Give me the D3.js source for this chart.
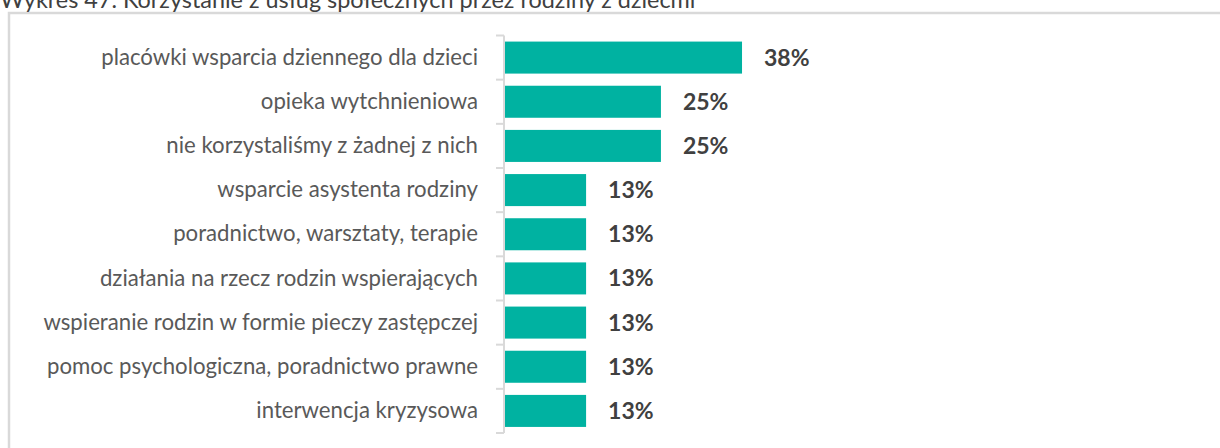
<!DOCTYPE html>
<html lang="pl">
<head>
<meta charset="utf-8">
<script src="https://cdn.jsdelivr.net/npm/d3@7"></script>
<style>
  html, body { margin: 0; padding: 0; background: #fff; }
  svg { display: block; }
</style>
</head>
<body>
<svg id="chart" width="1220" height="448"></svg>
<script>
// Services used by families with children (share of respondents, %)
const categories = [
  "placówki wsparcia dziennego dla dzieci",
  "opieka wytchnieniowa",
  "nie korzystaliśmy z żadnej z nich",
  "wsparcie asystenta rodziny",
  "poradnictwo, warsztaty, terapie",
  "działania na rzecz rodzin wspierających",
  "wspieranie rodzin w formie pieczy zastępczej",
  "pomoc psychologiczna, poradnictwo prawne",
  "interwencja kryzysowa"
];
const values = [38, 25, 25, 13, 13, 13, 13, 13, 13];
const valueLabels = ["38%", "25%", "25%", "13%", "13%", "13%", "13%", "13%", "13%"];
const title = "Wykres 47. Korzystanie z usług społecznych przez rodziny z dziećmi";

const FONT = "Lato, 'Open Sans', sans-serif";
const svg = d3.select("#chart");

// Chart frame (only top and left edges fall inside the viewport)
svg.append("rect")
  .attr("x", 9).attr("y", 13)
  .attr("width", 1400).attr("height", 600)
  .attr("fill", "#fff")
  .attr("stroke", "#d9d9d9")
  .attr("stroke-width", 2.5);

svg.append("text")
  .attr("x", 0).attr("y", 8)
  .attr("font-family", FONT)
  .attr("font-size", 23.4)
  .attr("fill", "#404040")
  .text(title);

const y = d3.scaleBand()
  .domain(categories)
  .range([35.5, 433])
  .paddingInner(0.275)
  .paddingOuter(0.1375);

const x = d3.scaleLinear()
  .domain([0, 80])
  .range([504, 1003]);

const gap = y.step() * y.paddingInner();

// Bars
svg.append("g").selectAll("rect")
  .data(values)
  .join("rect")
  .attr("x", x(0) + 1)
  .attr("y", (d, i) => y(categories[i]))
  .attr("width", d => x(d) - x(0))
  .attr("height", y.bandwidth())
  .attr("fill", "#00b2a1");

// Category axis: labels centred on bars, ticks on category boundaries
const axis = svg.append("g")
  .attr("transform", `translate(${x(0)},0)`)
  .call(d3.axisLeft(y).tickSize(0).tickPadding(26));
axis.select(".domain").remove();
axis.selectAll("text")
  .attr("font-family", FONT)
  .attr("font-size", 22.2)
  .attr("fill", "#595959");

const bounds = categories.map(c => y(c) - gap / 2).concat([y(categories[categories.length - 1]) + y.bandwidth() + gap / 2]);
svg.append("line")
  .attr("x1", x(0)).attr("x2", x(0))
  .attr("y1", bounds[0]).attr("y2", bounds[bounds.length - 1])
  .attr("stroke", "#d9d9d9").attr("stroke-width", 2);
svg.append("g").selectAll("line")
  .data(bounds)
  .join("line")
  .attr("x1", x(0) - 8).attr("x2", x(0))
  .attr("y1", d => d).attr("y2", d => d)
  .attr("stroke", "#d9d9d9").attr("stroke-width", 2);

// Value labels
svg.append("g").selectAll("text")
  .data(values)
  .join("text")
  .attr("x", d => x(d) + 23)
  .attr("y", (d, i) => y(categories[i]) + y.bandwidth() / 2)
  .attr("dy", "0.35em")
  .attr("font-family", FONT)
  .attr("font-size", 23)
  .attr("font-weight", "bold")
  .attr("fill", "#404040")
  .text((d, i) => valueLabels[i]);
</script>
</body>
</html>
